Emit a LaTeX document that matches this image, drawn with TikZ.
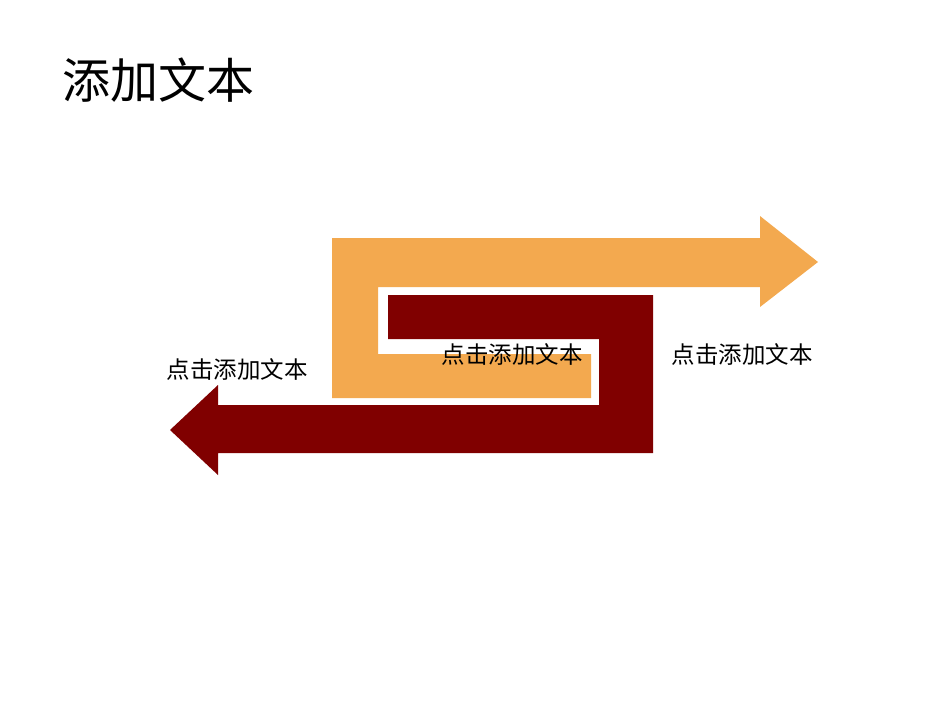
\documentclass[tikz,border=0pt]{standalone}
\usepackage{fontspec}
\newfontfamily\cjk{Noto Sans CJK SC}
\definecolor{org}{HTML}{F3A94F}
\definecolor{dred}{HTML}{800000}
\begin{document}
\begin{tikzpicture}[x=1pt,y=-1pt,lbl/.style={font=\cjk\fontsize{23.5}{28}\selectfont,inner sep=0pt}]
\useasboundingbox (0,0) rectangle (950,713);
\fill[org] (332,238) -- (760,238) -- (760,216) -- (818,262) -- (760,307) -- (760,287) -- (378,287) -- (378,354) -- (591,354) -- (591,398) -- (332,398) -- cycle;
\fill[dred] (388,295) -- (653,295) -- (653,453) -- (218,453) -- (218,475) -- (170,430) -- (218,385) -- (218,405) -- (599,405) -- (599,339) -- (388,339) -- cycle;
\node[anchor=west,inner sep=0pt,font=\cjk\fontsize{48}{54}\selectfont] (title) at (62,80) {添加文本};
\node[lbl] (l1) at (237,369) {点击添加文本};
\node[lbl] (l2) at (512,354) {点击添加文本};
\node[lbl] (l3) at (742,354) {点击添加文本};
\end{tikzpicture}
\end{document}
